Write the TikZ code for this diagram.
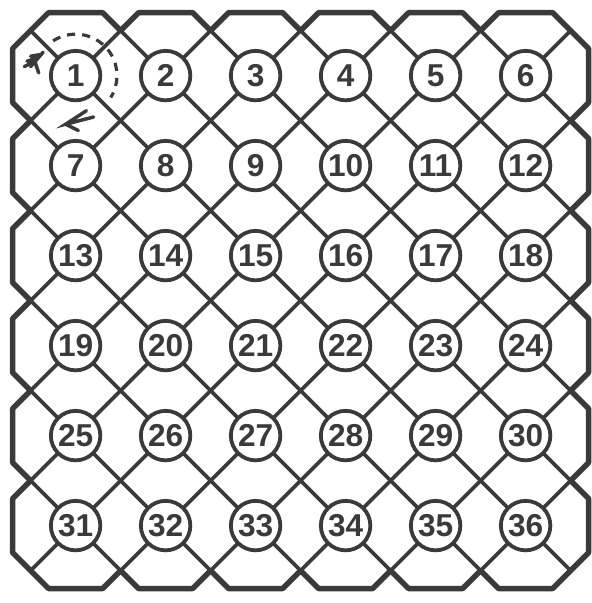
\documentclass[tikz,border=0pt]{standalone}
\usepackage{fontspec}
\setmainfont{Liberation Sans}
\usetikzlibrary{positioning}
\definecolor{bdInk}{HTML}{3A3A3A}

\begin{document}
\begin{tikzpicture}[
    lattice/.style={bdInk, line width=1.2pt},
    rim/.style={bdInk, line width=1.7pt, line join=round},
    field/.style={circle, draw=bdInk, line width=1.2pt, fill=white,
                  minimum size=0.55cm, inner sep=0pt,
                  font=\fontsize{10}{10}\selectfont\bfseries, text=bdInk},
    trail/.style={bdInk, line width=1pt, dash pattern=on 2.6pt off 2.2pt},
    glyph/.style={bdInk, line width=1.1pt, line cap=round}]
  \useasboundingbox (-0.84,0.84) rectangle (5.727,-5.86);
  % obrys planszy
  \def\rimpath{(-0.7,0.3)
    \foreach \i in {0,...,5}{ -- (\i-0.3,0.7) -- (\i+0.3,0.7) -- (\i+0.5,0.5) }
    \foreach \j in {0,...,5}{ -- (5.7,-\j+0.3) -- (5.7,-\j-0.3) -- (5.5,-\j-0.5) }
    \foreach \i in {5,4,...,0}{ -- (\i+0.3,-5.7) -- (\i-0.3,-5.7) -- (\i-0.5,-5.5) }
    \foreach \j in {5,4,...,0}{ -- (-0.7,-\j-0.3) -- (-0.7,-\j+0.3) -- (-0.5,-\j+0.5) }
    -- cycle}
  % siatka ukośna, przycięta do obrysu
  \begin{scope}
    \clip \rimpath;
    \foreach \k in {-5,...,5}{\draw[lattice] (\k-7,7) -- (\k+7,-7);}
    \foreach \m in {0,...,10}{\draw[lattice] (\m-7,-7) -- (\m+2,2);}
  \end{scope}
  \draw[rim] \rimpath;
  % pola 1..36
  \foreach \j in {0,...,5}{
    \foreach \i in {0,...,5}{
      \pgfmathtruncatemacro{\num}{6*\j+\i+1}
      \node[field] (c\num) at (\i,-\j) {\num};
    }
  }
  % droga wokół pola 1
  \draw[trail] (c1.center) ++(123:0.46) arc[start angle=123, end angle=-32, radius=0.46];
  % strzałki
  \draw[glyph] (-0.36,0.26) -- (-0.50,0.10)
    (-0.38,0.235) -- (-0.50,0.215) (-0.41,0.20) -- (-0.54,0.16)
    (-0.44,0.165) -- (-0.57,0.10) (-0.45,0.15) -- (-0.41,0.03);
  \draw[glyph] (0.12,-0.39) -- (-0.11,-0.54) -- (0.20,-0.46)
    (-0.11,-0.54) -- (0.03,-0.61);
\end{tikzpicture}
\end{document}
